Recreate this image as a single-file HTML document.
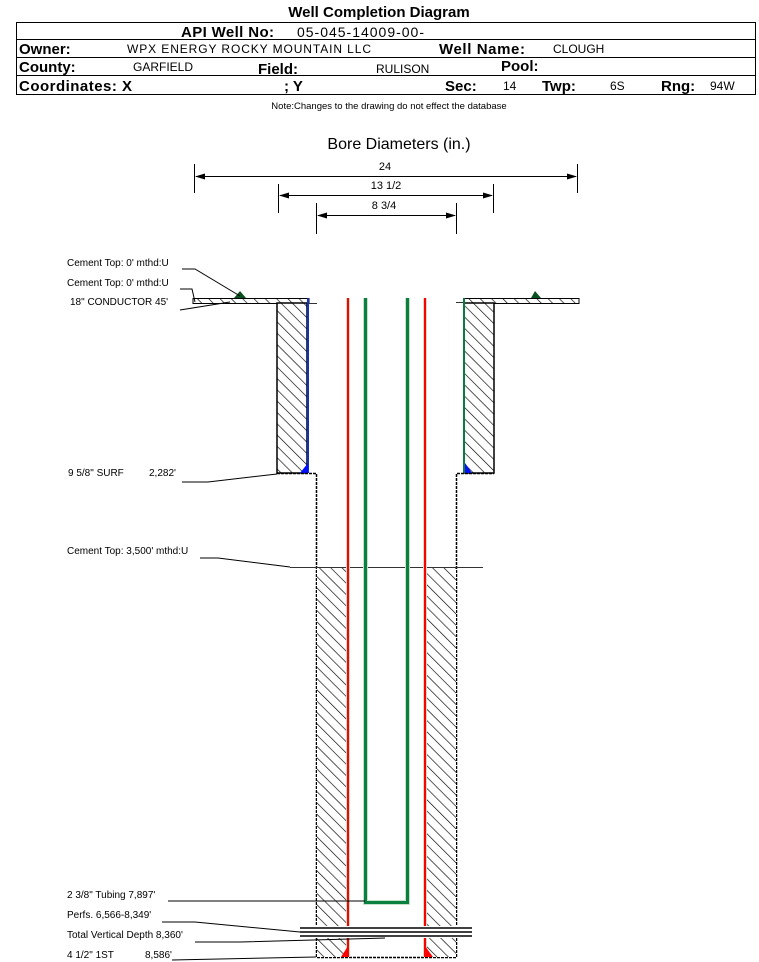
<!DOCTYPE html>
<html><head><style>
body{margin:0;background:#fff;}
svg{display:block;font-family:"Liberation Sans",Arial,sans-serif;}
</style></head><body>
<svg width="759" height="962" viewBox="0 0 759 962" xmlns="http://www.w3.org/2000/svg">
<defs>
<pattern id="h" width="8" height="8" patternUnits="userSpaceOnUse" patternTransform="rotate(-45)">
<rect width="8" height="8" fill="#fff"/><line x1="0" y1="0" x2="0" y2="8" stroke="#000" stroke-width="1.3"/>
</pattern>
<marker id="a" markerWidth="10" markerHeight="6" refX="9" refY="3" orient="auto" markerUnits="userSpaceOnUse"><path d="M0,0 L10,3 L0,6z" fill="#000"/></marker>
<marker id="b" markerWidth="10" markerHeight="6" refX="1" refY="3" orient="auto" markerUnits="userSpaceOnUse"><path d="M10,0 L0,3 L10,6z" fill="#000"/></marker>
</defs>
<!-- header -->
<text x="379" y="17" font-size="15" font-weight="bold" text-anchor="middle">Well Completion Diagram</text>
<rect x="16.5" y="22.5" width="739" height="72" fill="none" stroke="#000"/>
<line x1="16" y1="39.5" x2="756" y2="39.5" stroke="#000"/>
<line x1="16" y1="57.5" x2="756" y2="57.5" stroke="#000"/>
<line x1="16" y1="75.5" x2="756" y2="75.5" stroke="#000"/>
<g font-size="15" font-weight="bold">
<text x="181" y="37" textLength="93">API Well No:</text>
<text x="19" y="54">Owner:</text>
<text x="439" y="54" textLength="86">Well Name:</text>
<text x="19" y="72">County:</text>
<text x="258" y="74">Field:</text>
<text x="501" y="71">Pool:</text>
<text x="19" y="91" textLength="113">Coordinates: X</text>
<text x="284" y="91">; Y</text>
<text x="445" y="91">Sec:</text>
<text x="542" y="91">Twp:</text>
<text x="661" y="91">Rng:</text>
</g>
<g font-size="12">
<text x="297" y="37" font-size="14" textLength="127">05-045-14009-00-</text>
<text x="127" y="53" textLength="244">WPX ENERGY ROCKY MOUNTAIN LLC</text>
<text x="553" y="53">CLOUGH</text>
<text x="133" y="71">GARFIELD</text>
<text x="376" y="73">RULISON</text>
<text x="503" y="90">14</text>
<text x="610" y="90">6S</text>
<text x="710" y="90">94W</text>
</g>
<text x="389" y="109" font-size="9.5" text-anchor="middle">Note:Changes to the drawing do not effect the database</text>
<text x="399" y="149" font-size="16" text-anchor="middle">Bore Diameters (in.)</text>
<!-- dims -->
<g stroke="#000" stroke-width="1">
<line x1="194.5" y1="164" x2="194.5" y2="193"/><line x1="577.5" y1="164" x2="577.5" y2="193"/>
<line x1="196" y1="176.5" x2="576" y2="176.5" marker-start="url(#b)" marker-end="url(#a)"/>
<line x1="278.5" y1="184" x2="278.5" y2="213"/><line x1="493.5" y1="184" x2="493.5" y2="213"/>
<line x1="280" y1="195.5" x2="492" y2="195.5" marker-start="url(#b)" marker-end="url(#a)"/>
<line x1="316.5" y1="203" x2="316.5" y2="234"/><line x1="456.5" y1="203" x2="456.5" y2="234"/>
<line x1="318" y1="215.5" x2="455" y2="215.5" marker-start="url(#b)" marker-end="url(#a)"/>
</g>
<g font-size="11" text-anchor="middle"><text x="385" y="170">24</text><text x="386" y="189">13 1/2</text><text x="384" y="209">8 3/4</text></g>
<!-- conductor shelf -->
<rect x="193" y="298.5" width="116" height="5" fill="url(#h)" stroke="#000"/>
<rect x="464" y="298.5" width="115" height="5" fill="url(#h)" stroke="#000"/>
<line x1="309" y1="303.5" x2="317" y2="303.5" stroke="#333"/>
<line x1="456" y1="302.5" x2="464" y2="302.5" stroke="#333"/>
<!-- surface cement -->
<rect x="277" y="303" width="30" height="170" fill="url(#h)" stroke="#000" stroke-width="1.5"/>
<rect x="464" y="303" width="30" height="170" fill="url(#h)" stroke="#000" stroke-width="1.5"/>
<rect x="307" y="298" width="2" height="175" fill="#1030c0"/>
<rect x="463" y="298" width="2" height="175" fill="#0a7a40"/>
<path d="M300,473 L308,463 L308,473z" fill="#0010ff"/>
<path d="M465,463 L472,473 L465,473z" fill="#0010ff"/>
<!-- open hole -->
<path d="M277,473.5 H316.5 V957.5 H456.5 V473.5 H494" fill="none" stroke="#000" stroke-width="1.5" stroke-dasharray="3,1"/>
<!-- production cement -->
<rect x="317" y="567" width="29" height="390" fill="url(#h)"/>
<rect x="426" y="567" width="30" height="390" fill="url(#h)"/>
<line x1="290" y1="567.5" x2="483" y2="567.5" stroke="#333"/>
<!-- casing -->
<rect x="346" y="298" width="4" height="659" fill="#c8e0c8"/>
<rect x="347" y="298" width="2" height="659" fill="#ff0000"/>
<rect x="423" y="298" width="4" height="659" fill="#c8e0c8"/>
<rect x="424" y="298" width="2" height="659" fill="#ff0000"/>
<path d="M341,957 L348,946 L348,957z" fill="#ff0000"/>
<path d="M425,946 L433,957 L425,957z" fill="#ff0000"/>
<!-- tubing -->
<path d="M365.5,298 V902.5 H407.5 V298" fill="none" stroke="#c8e0c8" stroke-width="5"/>
<path d="M365.5,298 V902.5 H407.5 V298" fill="none" stroke="#0a8040" stroke-width="3"/>
<!-- perfs -->
<rect x="300" y="926" width="172" height="12" fill="#fff"/>
<g stroke="#000" stroke-width="1.5"><line x1="300" y1="928" x2="472" y2="928"/><line x1="300" y1="932" x2="472" y2="932"/><line x1="300" y1="936" x2="472" y2="936"/></g>
<!-- cement top markers -->
<path d="M234,298 L240,291 L246,298z" fill="#0a5020"/>
<path d="M531,298 L535,291 L541,298z" fill="#0a5020"/>
<!-- labels -->
<g font-size="10">
<text x="67" y="266">Cement Top: 0' mthd:U</text>
<text x="67" y="286">Cement Top: 0' mthd:U</text>
<text x="70" y="305">18" CONDUCTOR  45'</text>
<text x="68" y="476">9 5/8" SURF</text><text x="149" y="476">2,282'</text>
<text x="67" y="554">Cement Top: 3,500' mthd:U</text>
<text x="67" y="898">2 3/8" Tubing 7,897'</text>
<text x="67" y="918">Perfs. 6,566-8,349'</text>
<text x="67" y="938">Total Vertical Depth 8,360'</text>
<text x="67" y="958">4 1/2" 1ST</text><text x="145" y="958">8,586'</text>
</g>
<g stroke="#000" stroke-width="1" fill="none">
<path d="M182,269 H195 L240,296"/>
<path d="M180,289 H192 L195,302"/>
<path d="M180,310 L230,302"/>
<path d="M182,482 H208 L277,474"/>
<path d="M200,558 H218 L290,567"/>
<path d="M168,901 H365"/>
<path d="M162,922 H195 L300,932"/>
<path d="M195,942 H240 L385,938"/>
<path d="M172,960 L316,957"/>
</g>
</svg>
</body></html>
